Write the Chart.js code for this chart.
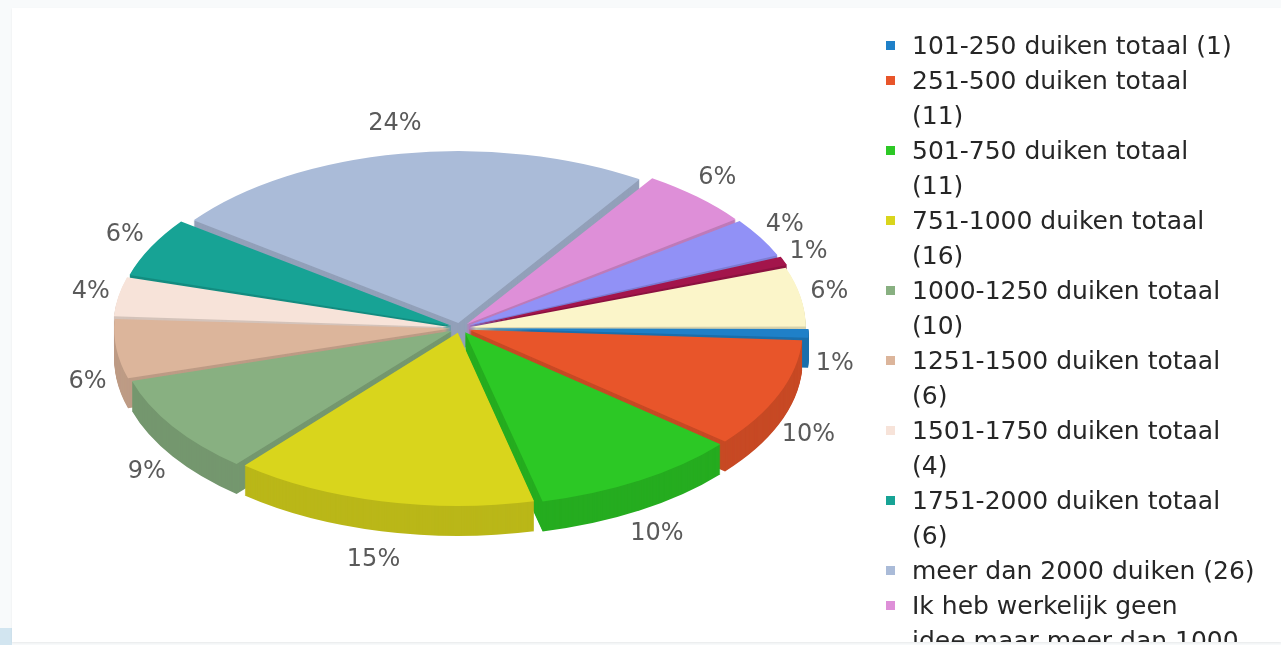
<!DOCTYPE html>
<html>
<head>
<meta charset="utf-8">
<title>Aantal duiken totaal</title>
<script src="https://cdn.jsdelivr.net/npm/chart.js@4.4.1/dist/chart.umd.min.js"></script>
<style>
html,body{
    margin:0;
    padding:0;
    width:1281px;
    height:645px;
    overflow:hidden;
    background:#f8fafb;
    font-family:"DejaVu Sans",sans-serif;
}
#corner{
    position:absolute;
    left:0;
    top:628px;
    width:12px;
    height:17px;
    background:#d2e5f0;
}
#panel{
    position:absolute;
    left:12px;
    top:8px;
    width:1269px;
    height:634px;
    background:#fff;
    overflow:hidden;
    box-shadow:0 1px 2px rgba(0,0,0,.07);
}
#chartBox{
    position:absolute;
    left:-12px;
    top:-8px;
    width:920px;
    height:656px;
}
#legend{
    position:absolute;
    left:873px;
    top:20px;
    width:396px;
    bottom:0;
    overflow:hidden;
    font-size:25px;
    line-height:35px;
    color:#262626;
}
.item{
    position:relative;
    padding-left:27px;
    white-space:nowrap;
}
.mark{
    position:absolute;
    left:1px;
    top:13px;
    width:9px;
    height:9px;
}
</style>
</head>
<body>
<div id="corner"></div>
<div id="panel">
    <div id="chartBox"><canvas id="diveChart"></canvas></div>
    <div id="legend"></div>
</div>

<script>

/* ==========================================
   DATA
========================================== */

const labels = [
    "101-250 duiken totaal",
    "251-500 duiken totaal",
    "501-750 duiken totaal",
    "751-1000 duiken totaal",
    "1000-1250 duiken totaal",
    "1251-1500 duiken totaal",
    "1501-1750 duiken totaal",
    "1751-2000 duiken totaal",
    "meer dan 2000 duiken",
    "Ik heb werkelijk geen idee maar meer dan 1000",
    "Ik heb werkelijk geen idee maar minder dan 1000",
    "51-100 duiken totaal",
    "minder dan 50 duiken"
];

const counts = [1, 11, 11, 16, 10, 6, 4, 6, 26, 6, 4, 1, 6];

const sliceColors = [
    "#1f80c8",
    "#e8552a",
    "#2cc825",
    "#d9d51c",
    "#88b081",
    "#dcb59b",
    "#f7e3d9",
    "#17a395",
    "#aabbd8",
    "#de8fd8",
    "#9191f6",
    "#a3154b",
    "#fbf5c9"
];

/* ==========================================
   3D PIE SETTINGS
========================================== */

const PIE_RX = 330;      // horizontal half axis of the top face
const PIE_RY = 172;      // vertical half axis of the top face
const PIE_DEPTH = 30;    // thickness of the pie
const LABEL_GAP_X = 45;
const LABEL_GAP_Y = 35;

const total = counts.reduce((a,b)=>a+b,0);

// squash the round pie into an ellipse and give it a side wall
const pie3d = {

    id:"pie3d",

    beforeDatasetsDraw(chart){

        const arcs = chart.getDatasetMeta(0).data;

        if(!arcs.length) return;

        const ctx = chart.ctx;
        const {x:cx, y:cy, outerRadius:r} = arcs[0];

        const sx = PIE_RX / r;
        const sy = PIE_RY / r;

        ctx.save();

        ctx.translate(cx,cy);
        ctx.scale(sx,sy);
        ctx.translate(-cx,-cy);

        // side walls, deepest layer first
        ctx.save();
        ctx.filter = "brightness(0.86)";

        for(let d = PIE_DEPTH; d > 0; d--){

            ctx.save();
            ctx.translate(0, d / sy);
            arcs.forEach(a=>a.draw(ctx));
            ctx.restore();

        }

        ctx.restore();

        // top faces get drawn by chart.js inside this transform

    },

    afterDatasetsDraw(chart){

        const arcs = chart.getDatasetMeta(0).data;

        if(!arcs.length) return;

        const ctx = chart.ctx;

        ctx.restore();

        // percentage labels around the pie
        ctx.save();
        ctx.font = "24px 'DejaVu Sans'";
        ctx.fillStyle = "#5a5a5a";
        ctx.textAlign = "center";
        ctx.textBaseline = "middle";

        arcs.forEach((a,i)=>{

            const mid = (a.startAngle + a.endAngle) / 2;
            const c = Math.cos(mid);
            const s = Math.sin(mid);

            const x = a.x + c * (PIE_RX + LABEL_GAP_X);
            const y = a.y + s * (PIE_RY + LABEL_GAP_Y) + (s > 0 ? PIE_DEPTH : 0);

            const pct = Math.round(counts[i] / total * 100) + "%";

            ctx.fillText(pct, x, y);

        });

        ctx.restore();

    }

};

/* ==========================================
   CHART
========================================== */

const diveChart = new Chart(document.getElementById("diveChart"),{

    type:"pie",

    data:{

        labels,

        datasets:[{

            data:counts,

            backgroundColor:sliceColors,

            borderWidth:0,

            // chart.js moves a slice out by offset / 4
            offset:36

        }]

    },

    options:{

        responsive:true,

        maintainAspectRatio:false,

        animation:false,

        rotation:90,

        layout:{
            padding:0
        },

        plugins:{

            legend:{
                display:false
            },

            tooltip:{
                enabled:true
            }

        }

    },

    plugins:[pie3d]

});

/* ==========================================
   LEGEND
========================================== */

// break legend text after 25 characters, on word boundaries
function wrapText(str, max){

    const words = str.split(" ");
    const lines = [];
    let cur = "";

    words.forEach(w=>{

        const next = cur ? cur + " " + w : w;

        if(next.length > max && cur){

            lines.push(cur);
            cur = w;

        }else{

            cur = next;

        }

    });

    if(cur) lines.push(cur);

    return lines;

}

const legendBox = document.getElementById("legend");

labels.forEach((name,i)=>{

    const item = document.createElement("div");
    item.className = "item";

    const mark = document.createElement("span");
    mark.className = "mark";
    mark.style.background = sliceColors[i];
    item.appendChild(mark);

    wrapText(name + " (" + counts[i] + ")", 25).forEach(line=>{

        const row = document.createElement("div");
        row.textContent = line;
        item.appendChild(row);

    });

    legendBox.appendChild(item);

});

</script>
</body>
</html>
